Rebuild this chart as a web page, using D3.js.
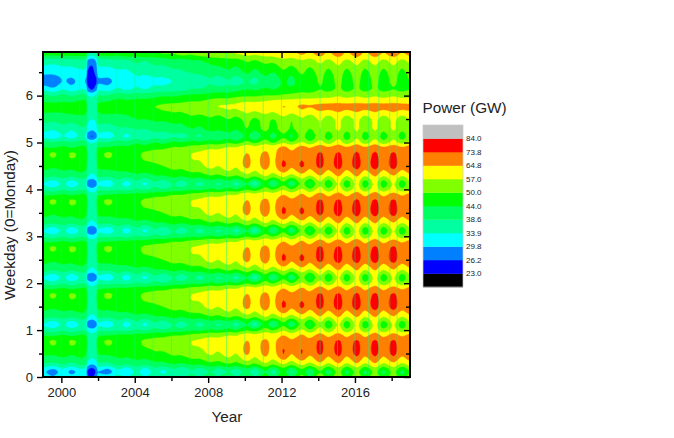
<!DOCTYPE html>
<html><head><meta charset="utf-8">
<script src="https://cdnjs.cloudflare.com/ajax/libs/d3/7.8.5/d3.min.js"></script>
<style>html,body{margin:0;padding:0;background:#fff}svg{display:block;font-family:"Liberation Sans",Arial,sans-serif}</style>
</head><body><svg id="c" width="674" height="438"></svg>
<script>
const years=[1999.0,1999.55,2000.1,2000.55,2001.1,2001.35,2001.42,2001.68,2001.92,2002.0,2002.55,2003.1,2003.55,2004.1,2004.55,2005.1,2005.55,2006.1,2006.55,2007.1,2007.55,2008.1,2008.55,2009.1,2009.55,2010.1,2010.55,2011.1,2011.55,2012.1,2012.55,2013.1,2013.55,2014.1,2014.55,2015.1,2015.55,2016.1,2016.55,2017.1,2017.55,2018.1,2018.55,2019.0];
const weekdays=[0,0.13,0.3,0.5,0.76,0.9,1,1.13,1.3,1.5,1.76,1.9,2,2.13,2.3,2.5,2.76,2.9,3,3.13,3.3,3.5,3.76,3.9,4,4.13,4.3,4.5,4.76,4.9,5,5.13,5.3,5.5,5.76,5.9,6,6.13,6.3,6.5,6.76,6.9,6.93];
const powerGW=[
[33,30,34,31,34,33,27,25,29,31,32,35,33,37,34,37,36,38,37,40,38,42,39,43,38,45,38,47,40,50,42,52,43,54,45,55,45,55,45,55,45,54,45,53],
[31,28,32,29,32,31,26,24,27,30,28,33,30,35,31,36,33,37,34,38,35,39,36,39,36,41,35,44,37,46,38,48,40,50,42,52,43,52,43,52,43,52,43,50],
[39,38,40,38,41,39,33,31,33,38,38,41,40,42,41,43,43,45,44,46,46,49,48,51,49,54,51,57,53,59,54,61,56,64,57,65,57,65,57,65,57,64,57,62],
[45,45,46,45,46,44,38,36,38,44,45,46,46,47,47,49,49,51,51,54,54,58,56,60,57,66,59,67,61,74,65,74,66,75,67,76,67,76,67,76,67,76,67,73],
[47,51,47,51,48,47,39,37,39,47,51,48,50,49,51,52,53,55,55,57,58,60,59,61,60,65,62,66,63,70,66,70,67,75,68,75,68,75,68,75,68,75,68,72],
[43,42,44,42,44,43,37,35,37,42,43,44,44,45,45,47,47,49,49,51,52,54,54,56,56,60,58,61,59,64,60,65,61,67,62,67,62,68,62,68,62,67,63,66],
[37,36,38,36,38,37,33,31,33,37,37,38,37,39,38,40,39,41,41,43,42,45,43,46,44,49,46,53,49,56,50,58,51,60,52,61,52,61,52,61,52,60,52,58],
[34,31,35,31,35,34,28,26.5,29,33,31,36,32,37,33,38,35,39,36,40,37,41,38,41,37,44,36,47,38,49,40,52,43,56,45,58,46,59,46,59,46,58,46,56],
[41,40,41,40,42,40,35,33,35,40,40,42,41,43,42,44,44,46,45,47,47,50,49,52,50,55,52,58,54,60,55,62,57,65,58,66,58,66,58,66,58,65,58,63],
[46,45,46,46,47,45,38,36,38,45,46,46,47,48,48,49,50,52,52,55,55,59,57,61,58,67,60,68,62,75,66,75,67,76,68,77,68,77,68,77,68,77,68,74],
[47,51,47,51,48,47,39,37,39,47,51,48,50,49,51,52,53,55,55,57,58,60,59,61,60,65,62,66,63,70,66,70,67,75,68,75,68,75,68,75,68,75,68,72],
[43,42,44,42,44,43,37,35,37,42,43,44,44,45,45,47,47,49,49,51,52,54,54,56,56,60,58,61,59,64,60,65,61,67,62,67,62,68,62,68,62,67,63,66],
[37,36,38,36,38,37,33,31,33,37,37,38,37,39,38,40,39,41,41,43,42,45,43,46,44,49,46,53,49,56,50,58,51,60,52,61,52,61,52,61,52,60,52,58],
[34,31,35,31,35,34,28,26.5,29,33,31,36,32,37,33,38,35,39,36,40,37,41,38,41,37,44,36,47,38,49,40,52,43,56,45,58,46,59,46,59,46,58,46,56],
[41,40,41,40,42,40,35,33,35,40,40,42,41,43,42,44,44,46,45,47,47,50,49,52,50,55,52,58,54,60,55,62,57,65,58,66,58,66,58,66,58,65,58,63],
[46,45,46,46,47,45,38,36,38,45,46,46,47,48,48,49,50,52,52,55,55,59,57,61,58,67,60,68,62,75,66,75,67,76,68,77,68,77,68,77,68,77,68,74],
[47,51,47,51,48,47,39,37,39,47,51,48,50,49,51,52,53,55,55,57,58,60,59,61,60,65,62,66,63,70,66,70,67,75,68,75,68,75,68,75,68,75,68,72],
[43,42,44,42,44,43,37,35,37,42,43,44,44,45,45,47,47,49,49,51,52,54,54,56,56,60,58,61,59,64,60,65,61,67,62,67,62,68,62,68,62,67,63,66],
[37,36,38,36,38,37,33,31,33,37,37,38,37,39,38,40,39,41,41,43,42,45,43,46,44,49,46,53,49,56,50,58,51,60,52,61,52,61,52,61,52,60,52,58],
[34,31,35,31,35,34,28,26.5,29,33,31,36,32,37,33,38,35,39,36,40,37,41,38,41,37,44,36,47,38,49,40,52,43,56,45,58,46,59,46,59,46,58,46,56],
[41,40,41,40,42,40,35,33,35,40,40,42,41,43,42,44,44,46,45,47,47,50,49,52,50,55,52,58,54,60,55,62,57,65,58,66,58,66,58,66,58,65,58,63],
[46,45,46,46,47,45,38,36,38,45,46,46,47,48,48,49,50,52,52,55,55,59,57,61,58,67,60,68,62,75,66,75,67,76,68,77,68,77,68,77,68,77,68,74],
[47,51,47,51,48,47,39,37,39,47,51,48,50,49,51,52,53,55,55,57,58,60,59,61,60,65,62,66,63,70,66,70,67,75,68,75,68,75,68,75,68,75,68,72],
[43,42,44,42,44,43,37,35,37,42,43,44,44,45,45,47,47,49,49,51,52,54,54,56,56,60,58,61,59,64,60,65,61,67,62,67,62,68,62,68,62,67,63,66],
[37,36,38,36,38,37,33,31,33,37,37,38,37,39,38,40,39,41,41,43,42,45,43,46,44,49,46,53,49,56,50,58,51,60,52,61,52,61,52,61,52,60,52,58],
[34,31,35,31,35,34,28,26.5,29,33,31,36,32,37,33,38,35,39,36,40,37,41,38,41,37,44,36,47,38,49,40,52,43,56,45,58,46,59,46,59,46,58,46,56],
[41,40,41,40,42,40,35,33,35,40,40,42,41,43,42,44,44,46,45,47,47,50,49,52,50,55,52,58,54,60,55,62,57,65,58,66,58,66,58,66,58,65,58,63],
[46,45,46,46,47,45,38,36,38,45,46,46,47,48,48,49,50,52,52,55,55,59,57,61,58,67,60,68,62,75,66,75,67,76,68,77,68,77,68,77,68,77,68,74],
[47,51,47,51,48,47,39,37,39,47,51,48,50,49,51,52,53,55,55,57,58,60,59,61,60,65,62,66,63,70,66,70,67,75,68,75,68,75,68,75,68,75,68,72],
[44,43,45,43,45,44,38,36,38,43,44,45,45,46,46,48,48,50,50,52,53,55,55,57,57,61,59,62,61,66,62,67,64,69,65,69,65,70,65,70,65,69,65,68],
[40,39,40,39,41,39,35,33,35,38,39,41,40,43,41,44,42,45,44,46,45,47,46,49,47,52,48,54,49,56,51,58,52,60,53,61,53,61,53,61,53,60,54,59],
[33,31,34,32,35,33,28,26,29,33,32,35,33,36,34,37,36,38,37,39,38,41,40,42,39,45,39,47,42,49,43,52,45,54,47,55,47,56,47,55,47,55,47,54],
[36,35,37,35,38,37,33,31,33,36,36,38,38,39,39,41,41,42,42,44,43,46,45,47,45,50,46,52,47,54,49,56,50,57,52,58,52,58,52,58,52,58,52,57],
[41,40,41,41,42,41,35,34,35,41,41,42,42,44,44,45,45,46,46,48,47,49,47,50,48,52,49,53,50,55,51,56,52,58,53,59,53,59,53,59,53,59,53,58],
[46,46,46,47,47,46,37,35,37,45,47,46,47,48,49,50,51,52,52,54,54,56,57,58,58,61,60,62,61,65,63,66,65,67,67,68,67,68,67,68,67,68,67,67],
[43,42,43,42,44,43,36,35,37,42,43,45,44,45,45,46,47,47,48,49,49,51,52,52,54,55,55,56,57,58,58,59,59,60,60,61,60,61,60,61,60,61,60,60],
[40,38,40,38,40,39,34,33,35,38,39,41,40,41,41,42,43,43,44,45,45,46,47,47,48,49,49,50,50,51,52,53,53,54,54,56,54,56,54,56,54,56,54,55],
[33,31,34,32,34,33,28,26,29,33,32,35,33,35,34,36,36,37,37,39,39,41,41,41,42,44,43,45,44,46,46,48,47,50,48,51,48,51,48,51,48,50,48,50],
[28,27,30,29,31,29,25,23.5,26,29,29,31,30,33,32,33,33,34,35,36,35,38,36,38,36,39,37,42,39,45,42,48,44,51,46,52,46,52,46,52,46,52,46,50],
[31,31,32,32,33,32,26,25,28,32,32,33,33,35,35,36,36,37,38,39,40,41,41,43,41,45,42,46,44,49,46,51,47,53,48,54,48,54,48,54,48,54,48,53],
[37,36,37,37,38,37,30,28,31,36,37,38,38,40,39,41,41,43,42,44,44,46,47,48,48,51,50,52,52,55,54,57,55,59,56,60,56,60,56,60,56,60,56,59],
[46,46,47,47,47,46,38,36,39,45,47,46,48,47,49,48,50,50,52,51,53,54,55,56,57,59,58,60,60,64,62,66,63,68,63,69,63,69,63,69,64,69,64,67],
[45,45,46,45,46,45,37,35,38,44,45,45,47,46,47,47,49,49,50,50,51,52,53,54,55,57,56,58,58,62,60,64,61,66,61,67,61,67,61,67,62,67,62,65]
];
const dipYears=[2000,2001,2002.98,2004,2005,2006,2007,2008,2009,2010,2011,2012,2013,2014.1,2015.05,2016,2016.75,2017.3,2017.9,2018.3];
const levelBreaks=[23,26.2,29.8,33.9,38.6,44,50,57,64.8,73.8,84];
const levelColors=["#000000","#0000ff","#0080ff","#00ffff","#00ffa0","#00ff60","#00ff00","#80ff00","#ffff00","#ff8000","#ff0000","#c0c0c0"];
const xTicks=[2000,2002,2004,2006,2008,2010,2012,2014,2016,2018];
const xLabelled=[2000,2004,2008,2012,2016];
const yLabelled=[0,1,2,3,4,5,6];
const yMinor=[0.5,1.5,2.5,3.5,4.5,5.5,6.5];

const svg=d3.select("#c");
const L=43,R=410,T=52,B=377,UP=4;
const x=d3.scaleLinear().domain([1999,2019]).range([L,R]);
const y=d3.scaleLinear().domain([0,6.93]).range([B,T]);
const colX=d3.scaleLinear().domain(years.map((_,i)=>i)).range(years).clamp(true);
const rowY=d3.scaleLinear().domain(weekdays.map((_,i)=>i)).range(weekdays).clamp(true);

// smooth the read-off grid only for drawing, so that contours come out round
function smoothLine(a){
  const out=[];
  for(let i=0;i<a.length-1;i++){
    const p0=a[Math.max(i-1,0)],p1=a[i],p2=a[i+1],p3=a[Math.min(i+2,a.length-1)];
    for(let k=0;k<UP;k++){
      const t=k/UP;
      out.push(0.5*(2*p1+(p2-p0)*t+(2*p0-5*p1+4*p2-p3)*t*t+(3*p1-p0-3*p2+p3)*t*t*t));
    }
  }
  out.push(a[a.length-1]);
  return out;
}
const rowsFine=powerGW.map(smoothLine);
const nF=rowsFine[0].length;
const colsFine=d3.range(nF).map(i=>smoothLine(rowsFine.map(r=>r[i])));
const mF=colsFine[0].length;
const flat=[];
for(let j=0;j<mF;j++)for(let i=0;i<nF;i++)flat.push(colsFine[i][j]);
const contours=d3.contours().size([nF,mF]).thresholds(levelBreaks)(flat);
const proj=d3.geoTransform({point(a,b){this.stream.point(x(colX((a-0.5)/UP)),y(rowY((b-0.5)/UP)));}});
const path=d3.geoPath(proj);
const band=d=>levelColors[levelBreaks.indexOf(d.value)+1];
const plot=svg.append("g");
plot.append("rect").attr("x",L).attr("y",T).attr("width",R-L).attr("height",B-T).attr("fill",levelColors[0]);
plot.selectAll("path").data(contours).join("path").attr("d",path).attr("fill",band).attr("stroke",band).attr("stroke-width",0.3);
plot.selectAll("line").data(dipYears).join("line").attr("x1",d=>x(d)).attr("x2",d=>x(d)).attr("y1",T).attr("y2",B)
  .attr("stroke","#00ff80").attr("stroke-opacity",0.45).attr("stroke-width",1);

// frame and ticks
const xMinor=xTicks.filter(v=>!xLabelled.includes(v));
svg.append("g").attr("transform",`translate(0,${B})`).call(d3.axisBottom(x).tickValues(xLabelled).tickFormat(d3.format("d")).tickSize(6).tickPadding(5));
svg.append("g").attr("transform",`translate(0,${B})`).call(d3.axisBottom(x).tickValues(xMinor).tickFormat("").tickSize(4));
svg.append("g").attr("transform",`translate(0,${T})`).call(d3.axisBottom(x).tickValues(xLabelled).tickFormat("").tickSize(6));
svg.append("g").attr("transform",`translate(0,${T})`).call(d3.axisBottom(x).tickValues(xMinor).tickFormat("").tickSize(4));
svg.append("g").attr("transform",`translate(${L},0)`).call(d3.axisLeft(y).tickValues(yLabelled).tickFormat(d3.format("d")).tickSize(6).tickPadding(4));
svg.append("g").attr("transform",`translate(${L},0)`).call(d3.axisLeft(y).tickValues(yMinor).tickFormat("").tickSize(4));
svg.append("g").attr("transform",`translate(${R},0)`).call(d3.axisLeft(y).tickValues(yLabelled).tickFormat("").tickSize(6));
svg.append("g").attr("transform",`translate(${R},0)`).call(d3.axisLeft(y).tickValues(yMinor).tickFormat("").tickSize(4));
svg.selectAll(".domain").remove();
svg.selectAll(".tick line").attr("stroke","#000").attr("stroke-width",1.4);
svg.selectAll(".tick text").attr("font-size",13).attr("font-family",'"Liberation Sans",Arial,sans-serif').attr("fill","#222");
svg.append("rect").attr("x",L).attr("y",T).attr("width",R-L).attr("height",B-T).attr("fill","none").attr("stroke","#000").attr("stroke-width",2);

svg.append("text").attr("x",227).attr("y",422).attr("text-anchor","middle").attr("font-size",15.3).attr("fill","#222").text("Year");
svg.append("text").attr("transform","translate(15,225) rotate(-90)").attr("text-anchor","middle").attr("font-size",15.3).attr("fill","#222").text("Weekday (0=Monday)");

// legend
const lx=423,lw=40,lTop=125,lBot=287;
const lev=d3.scaleBand().domain(d3.range(levelColors.length)).range([lBot,lTop]);
const lg=svg.append("g");
lg.selectAll("rect").data(levelColors).join("rect").attr("x",lx).attr("y",(d,i)=>lev(i)).attr("width",lw).attr("height",lev.bandwidth()+0.3).attr("fill",d=>d);
lg.append("rect").attr("x",lx).attr("y",lTop).attr("width",lw).attr("height",lBot-lTop).attr("fill","none").attr("stroke","#c8c8c8").attr("stroke-width",0.7);
lg.selectAll("text").data(levelBreaks).join("text").attr("x",466).attr("y",(d,i)=>lev(i)+2.5).attr("font-size",8).attr("fill","#222").text(d=>d.toFixed(1));
svg.append("text").attr("x",422.5).attr("y",113).attr("font-size",15.3).attr("fill","#222").text("Power (GW)");
</script></body></html>
